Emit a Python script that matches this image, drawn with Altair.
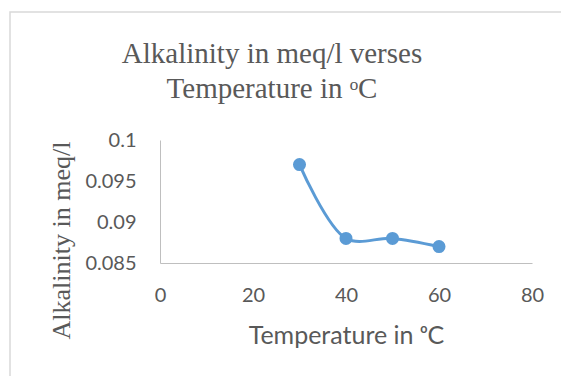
import altair as alt
import pandas as pd

temperature = [30, 40, 50, 60]
alkalinity = [0.097, 0.088, 0.088, 0.087]
x_ticks = [0, 20, 40, 60, 80]
y_ticks = [0.085, 0.09, 0.095, 0.1]

title_lines = ["Alkalinity in meq/l verses", "Temperature in ᵒC"]
x_title = "Temperature in ᵒC"
y_title = "Alkalinity in meq/l"

df = pd.DataFrame({"t": temperature, "a": alkalinity})
color = "#5B9BD5"
grey_text = "#595959"

x_enc = alt.X(
    "t:Q",
    scale=alt.Scale(domain=[0, 80], nice=False),
    axis=alt.Axis(
        values=x_ticks, grid=False, ticks=False, domainColor="#BFBFBF",
        labelFont="Lato", labelFontSize=20, labelColor=grey_text,
        labelBaseline="alphabetic", labelPadding=38, labelFlush=False,
        title=x_title, titleFont="Lato", titleFontSize=25, titleFontWeight="normal",
        titleColor=grey_text, titleX=186, titleY=80, titleBaseline="alphabetic",
        titleAlign="center",
    ),
)
y_enc = alt.Y(
    "a:Q",
    scale=alt.Scale(domain=[0.085, 0.1], nice=False, zero=False),
    axis=alt.Axis(
        values=y_ticks, grid=False, ticks=False, domainColor="#BFBFBF",
        labelFont="Lato", labelFontSize=20, labelColor=grey_text,
        labelPadding=24, labelExpr="format(datum.value, '.3~f')",
        title=y_title, titleFont="Liberation Serif", titleFontSize=26,
        titleFontWeight="normal", titleColor=grey_text, titleX=-91, titleY=100,
        titleAlign="center", titleBaseline="alphabetic", titleAngle=270,
    ),
)

border = alt.Chart(pd.DataFrame({"k": [0]})).mark_rect(
    fill=None, stroke="#D9D9D9", strokeWidth=1.5, clip=False
).encode(
    x=alt.value(-150), x2=alt.value(410), y=alt.value(-128), y2=alt.value(250)
)

line = alt.Chart(df).mark_line(
    color=color, strokeWidth=3, interpolate="catmull-rom"
).encode(x=x_enc, y=y_enc)

points = alt.Chart(df).mark_point(
    filled=True, color=color, size=170, opacity=1
).encode(x="t:Q", y="a:Q")

chart = alt.layer(border, line, points).properties(
    width=372,
    height=123,
    autosize=alt.AutoSizeParams(type="none"),
    padding={"left": 160, "top": 140, "right": 29, "bottom": 113},
    background="white",
    title=alt.TitleParams(
        text=title_lines, font="Liberation Serif", fontSize=29,
        fontWeight="normal", color=grey_text, anchor="middle",
        lineHeight=35, dx=-74, dy=93, offset=0,
    ),
).configure_view(stroke=None)

chart.save("out.html", embed_options={"renderer": "svg", "actions": False})
